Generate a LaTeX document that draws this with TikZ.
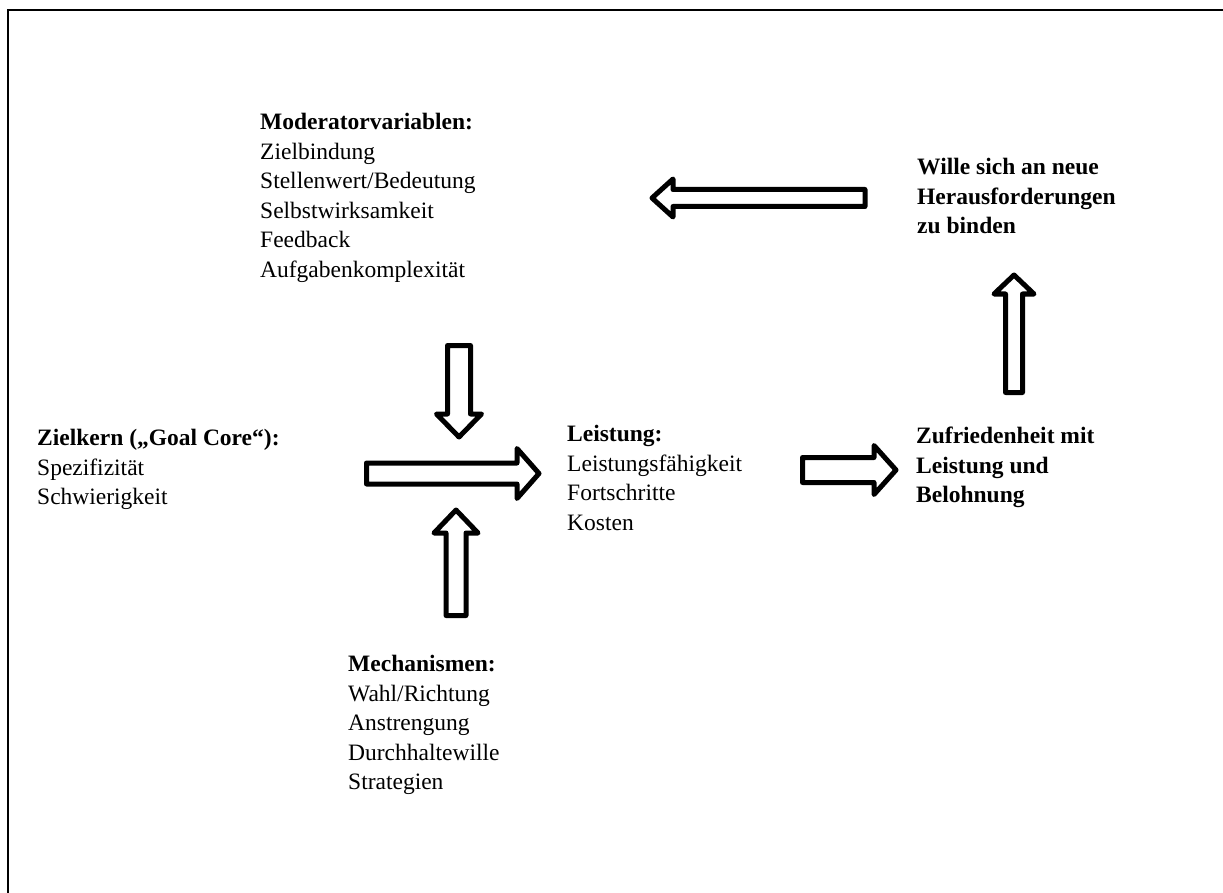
\documentclass[tikz,border=0pt]{standalone}
\usepackage{fontspec}
\setmainfont{Liberation Serif}
% horizontal block arrow: tail x, tip x, centre y, shaft half, head base x, head half
\newcommand\hblockarrow[6]{\path[barrow] (#1,{#3-#4}) -- (#5,{#3-#4}) -- (#5,{#3-#6}) -- (#2,#3) -- (#5,{#3+#6}) -- (#5,{#3+#4}) -- (#1,{#3+#4}) -- cycle;}
% vertical block arrow: tail y, tip y, centre x, shaft half, head base y, head half
\newcommand\vblockarrow[6]{\path[barrow] ({#3-#4},#1) -- ({#3-#4},#5) -- ({#3-#6},#5) -- (#3,#2) -- ({#3+#6},#5) -- ({#3+#4},#5) -- ({#3+#4},#1) -- cycle;}
\begin{document}
\begin{tikzpicture}[x=1pt,y=-1pt,
  txt/.style={anchor=north west, inner sep=0pt, align=left, font=\fontsize{23.5}{29.5}\selectfont},
  barrow/.style={draw=black, fill=white, line width=5pt, line join=round},
  frame/.style={draw=black, line width=2.2pt}]
\useasboundingbox (0,0) rectangle (1223,893);
\draw[frame] (8,893) -- (8,10) -- (1223,10);

\node[txt] (moder) at (260,109) {\strut\textbf{Moderatorvariablen:}\\Zielbindung\\Stellenwert/Bedeutung\\Selbstwirksamkeit\\Feedback\\Aufgabenkomplexität};
\node[txt] (wille) at (917,154) {\strut\textbf{Wille sich an neue}\\\textbf{Herausforderungen}\\\textbf{zu binden}};
\node[txt] (ziel) at (37,425) {\strut\textbf{Zielkern („Goal Core“):}\\Spezifizität\\Schwierigkeit};
\node[txt] (leist) at (567,421) {\strut\textbf{Leistung:}\\Leistungsfähigkeit\\Fortschritte\\Kosten};
\node[txt] (zufr) at (916,423) {\strut\textbf{Zufriedenheit mit}\\\textbf{Leistung und}\\\textbf{Belohnung}};
\node[txt] (mech) at (348,651) {\strut\textbf{Mechanismen:}\\Wahl/Richtung\\Anstrengung\\Durchhaltewille\\Strategien};

% block arrows
\hblockarrow{865}{652}{198}{8.5}{673}{19}
\vblockarrow{392.5}{275}{1014}{8.5}{294}{20}
\vblockarrow{345.5}{437}{459}{11.5}{414}{22.5}
\hblockarrow{366.5}{539}{473.5}{10.5}{517}{25}
\vblockarrow{615.5}{510}{456}{10}{533}{22}
\hblockarrow{802.5}{896}{470}{12.5}{874}{24.5}
\end{tikzpicture}
\end{document}
